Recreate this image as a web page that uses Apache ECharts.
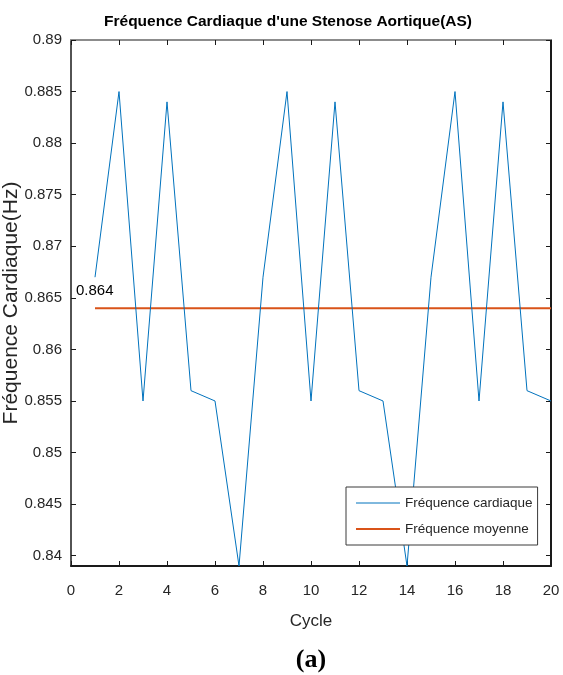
<!DOCTYPE html>
<html>
<head>
<meta charset="utf-8">
<script src="https://cdn.jsdelivr.net/npm/echarts@6/dist/echarts.min.js"></script>
<style>
html,body{margin:0;padding:0;background:#fff;}
#chart{width:563px;height:675px;}
</style>
</head>
<body>
<div id="chart"></div>
<script>
var cycles = [1,2,3,4,5,6,7,8,9,10,11,12,13,14,15,16,17,18,19,20];
var heartRate = [0.867,0.885,0.855,0.884,0.856,0.855,0.839,0.867,0.885,0.855,0.884,0.856,0.855,0.839,0.867,0.885,0.855,0.884,0.856,0.855];
var meanValue = 0.864;
var meanCycles = [1, 20];
var yTickLabels = ['0.84','0.845','0.85','0.855','0.86','0.865','0.87','0.875','0.88','0.885','0.89'];
var xTickLabels = ['0','2','4','6','8','10','12','14','16','18','20'];
var seriesNames = ['Fréquence cardiaque', 'Fréquence moyenne'];
var titleText = "Fréquence Cardiaque d'une Stenose Aortique(AS)";

var yTicks = yTickLabels.map(Number);
var xTicks = xTickLabels.map(Number);
var SANS = "'Liberation Sans', Arial, sans-serif";
var TXT = '#262626';

var chart = echarts.init(document.getElementById('chart'));
var option = {
  backgroundColor: '#fff',
  animation: false,
  grid: {left: 71, right: 12, top: 40, bottom: 109, containLabel: false, outerBoundsMode: 'none'},
  xAxis: [{
    type: 'value', min: 0, max: 20,
    axisLine: {show: true, onZero: false, lineStyle: {color: '#1a1a1a', width: 2}},
    axisTick: {show: true, inside: true, length: 5, customValues: xTicks, lineStyle: {color: '#1a1a1a', width: 1}},
    axisLabel: {show: true, customValues: xTicks, margin: 17, color: TXT, fontFamily: SANS, fontSize: 15,
      formatter: function(v){ var i = xTicks.indexOf(v); return i >= 0 ? xTickLabels[i] : String(v); }},
    splitLine: {show: false},
    name: 'Cycle', nameLocation: 'middle', nameGap: 47, nameMoveOverlap: false,
    nameTextStyle: {color: TXT, fontFamily: SANS, fontSize: 17}
  }, {
    type: 'value', min: 0, max: 20, position: 'top',
    axisLine: {show: true, onZero: false, lineStyle: {color: '#8c8c8c', width: 2}},
    axisTick: {show: true, inside: true, length: 5, customValues: xTicks, lineStyle: {color: '#1a1a1a', width: 1}},
    axisLabel: {show: false},
    splitLine: {show: false}
  }],
  yAxis: [{
    type: 'value', min: 0.839, max: 0.89,
    axisLine: {show: true, onZero: false, lineStyle: {color: '#1a1a1a', width: 1.5}},
    axisTick: {show: true, inside: true, length: 5, customValues: yTicks, lineStyle: {color: '#1a1a1a', width: 1}},
    axisLabel: {show: true, customValues: yTicks, margin: 9, color: TXT, fontFamily: SANS, fontSize: 15,
      formatter: function(v){
        var best = 0, bd = 1e9;
        for (var i = 0; i < yTicks.length; i++) { var d = Math.abs(yTicks[i]-v); if (d < bd) { bd = d; best = i; } }
        return yTickLabels[best];
      }},
    splitLine: {show: false},
    name: 'Fréquence Cardiaque(Hz)', nameLocation: 'middle', nameGap: 49, nameRotate: 90, nameMoveOverlap: false,
    nameTextStyle: {color: TXT, fontFamily: SANS, fontSize: 21}
  }, {
    type: 'value', min: 0.839, max: 0.89, position: 'right',
    axisLine: {show: true, onZero: false, lineStyle: {color: '#1a1a1a', width: 2}},
    axisTick: {show: true, inside: true, length: 5, customValues: yTicks, lineStyle: {color: '#1a1a1a', width: 1}},
    axisLabel: {show: false},
    splitLine: {show: false}
  }],
  legend: {
    show: true, orient: 'vertical', left: 346, top: 487,
    backgroundColor: '#fff', borderColor: '#3a3a3a', borderWidth: 1,
    padding: [9, 5, 9, 9], itemWidth: 44, itemHeight: 14, itemGap: 12,
    itemStyle: {opacity: 0},
    textStyle: {color: TXT, fontFamily: SANS, fontSize: 13.5},
    data: [
      {name: seriesNames[0], lineStyle: {width: 1}},
      {name: seriesNames[1], lineStyle: {width: 2}}
    ]
  },
  series: [{
    name: seriesNames[0], type: 'line', xAxisIndex: 0, yAxisIndex: 0,
    data: cycles.map(function(c, i){ return [c, heartRate[i]]; }),
    symbol: 'none', lineStyle: {color: '#0072BD', width: 1}, itemStyle: {color: '#0072BD'}, z: 3
  }, {
    name: seriesNames[1], type: 'line', xAxisIndex: 0, yAxisIndex: 0,
    data: meanCycles.map(function(c){ return [c, meanValue]; }),
    symbol: 'none', lineStyle: {color: '#D95319', width: 2}, itemStyle: {color: '#D95319'}, z: 2
  }],
  graphic: [{
    type: 'text', x: 288, y: 22,
    style: {text: titleText, fill: '#000', font: "bold 15.5px 'Liberation Sans', Arial, sans-serif", textAlign: 'center', textVerticalAlign: 'middle'}
  }, {
    type: 'text', x: 311, y: 660,
    style: {text: '(a)', fill: '#000', font: "bold 26px 'Liberation Serif', 'Times New Roman', serif", textAlign: 'center', textVerticalAlign: 'middle'}
  }]
};
chart.setOption(option);
var p = chart.convertToPixel({gridIndex: 0}, [meanCycles[0], meanValue]);
chart.setOption({graphic: option.graphic.concat([{
  type: 'text', x: p[0] - 19, y: p[1] - 17,
  style: {text: String(meanValue), fill: '#000', font: "15px 'Liberation Sans', Arial, sans-serif", textAlign: 'left', textVerticalAlign: 'middle'}
}])});
</script>
</body>
</html>
